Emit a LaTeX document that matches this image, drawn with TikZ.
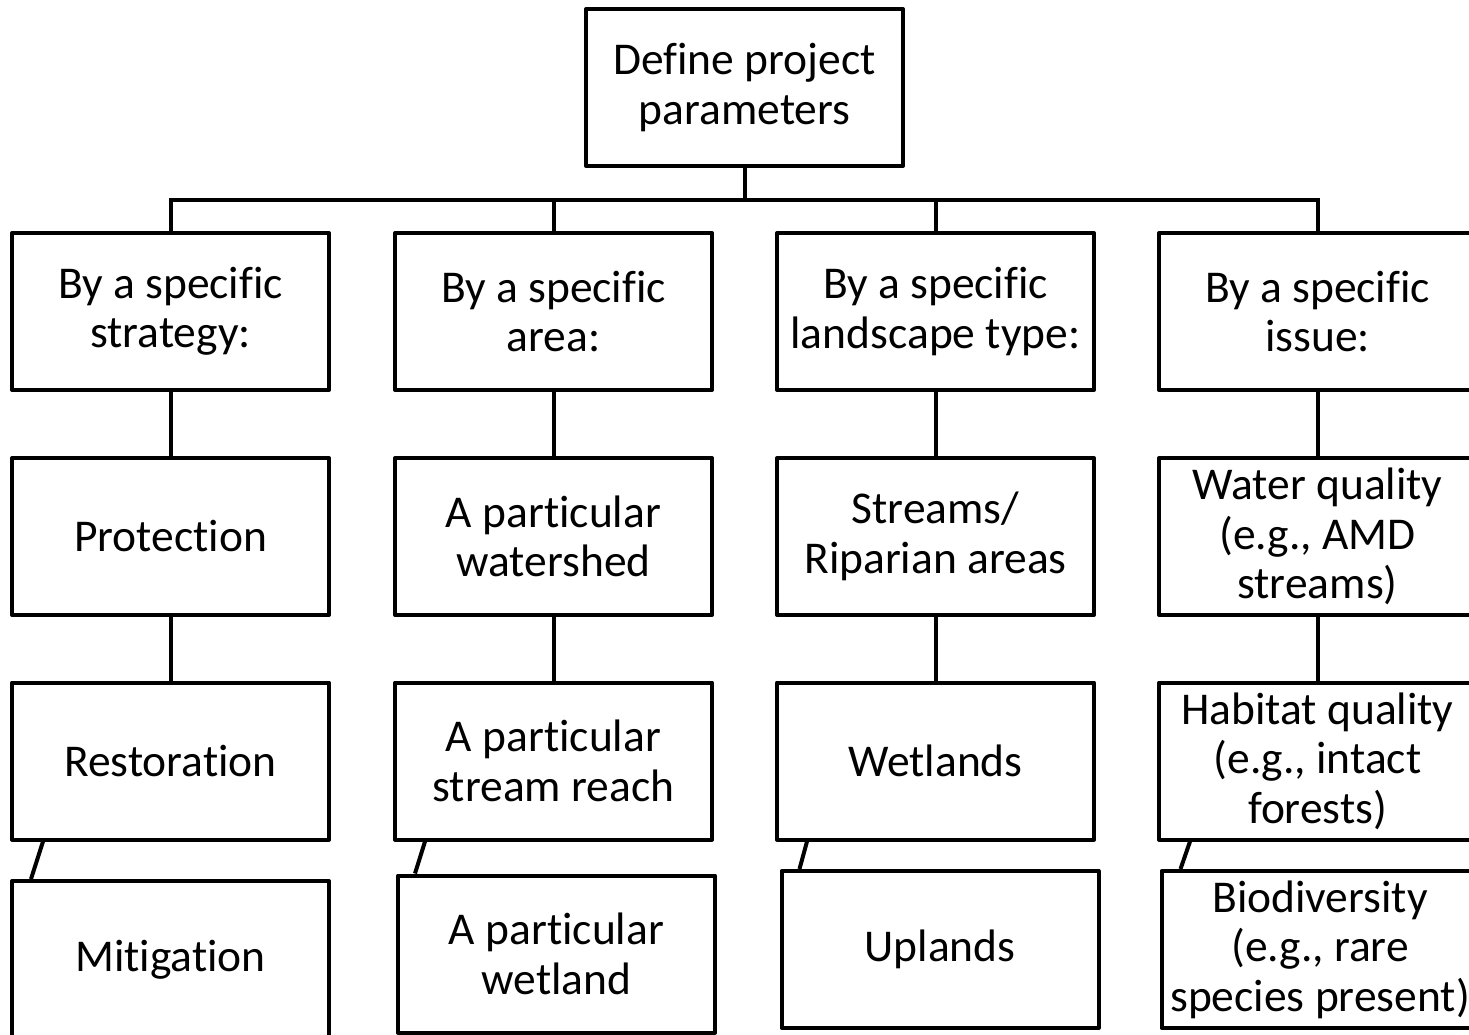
\documentclass[tikz,border=0pt]{standalone}
\usepackage{fontspec}
\setmainfont[Ligatures=NoCommon]{Carlito}
\usetikzlibrary{calc}
\begin{document}
\begin{tikzpicture}[x=1pt,y=-1pt,
  box/.style={draw=black, line width=4pt, fill=white, rectangle, minimum width=317pt, minimum height=157pt,
    inner sep=0pt, align=center, font=\fontsize{45.5}{49.5}\selectfont, line join=round},
  conn/.style={draw=black, line width=4pt}]
\useasboundingbox (0,0) rectangle (1469,1035);
\node[box] (top) at (744.5,87.5) {Define project\\parameters};
\coordinate (bus) at (744.5,200);
% row 1
\node[box] (r1c1) at (170.5,311.5) {By a specific\\strategy:};
\node[box] (r1c2) at (553.5,311.5) {By a specific\\area:};
\node[box] (r1c3) at (935.5,311.5) {By a specific\\landscape type:};
\node[box] (r1c4) at (1317.5,311.5) {By a specific\\issue:};
% row 2
\node[box] (r2c1) at (170.5,536.5) {Protection};
\node[box] (r2c2) at (553.5,536.5) {A particular\\watershed};
\node[box] (r2c3) at (935.5,536.5) {Streams/\\Riparian areas};
\node[box] (r2c4) at (1317.5,536.5) {Water quality\\(e.g., AMD\\streams)};
% row 3
\node[box] (r3c1) at (170.5,761) {Restoration};
\node[box] (r3c2) at (553.5,761) {A particular\\stream reach};
\node[box] (r3c3) at (935.5,761) {Wetlands};
\node[box] (r3c4) at (1317.5,761) {Habitat quality\\(e.g., intact\\forests)};
% row 4
\node[box] (r4c1) at (170.5,959.5) {Mitigation};
\node[box] (r4c2) at (556.5,954) {A particular\\wetland};
\node[box] (r4c3) at (940,949.5) {Uplands};
\node[box] (r4c4) at (1320,949.5) {Biodiversity\\(e.g., rare\\species present)};
% bus
\draw[conn] (top.south) -- (bus);
\draw[conn] (r1c1.north) -- (r1c1.north |- bus) -- (r1c4.north |- bus) -- (r1c4.north);
\draw[conn] (r1c2.north) -- (r1c2.north |- bus);
\draw[conn] (r1c3.north) -- (r1c3.north |- bus);
% verticals
\foreach \c in {1,2,3,4}{
  \draw[conn] (r1c\c.south) -- (r2c\c.north);
  \draw[conn] (r2c\c.south) -- (r3c\c.north);
}
% slanted
\draw[conn] ([xshift=33pt]r3c1.south west) -- ([xshift=21pt]r4c1.north west);
\draw[conn] ([xshift=32pt]r3c2.south west) -- ([xshift=19pt]r4c2.north west);
\draw[conn] ([xshift=32pt]r3c3.south west) -- ([xshift=20pt]r4c3.north west);
\draw[conn] ([xshift=33pt]r3c4.south west) -- ([xshift=21pt]r4c4.north west);
\end{tikzpicture}
\end{document}
